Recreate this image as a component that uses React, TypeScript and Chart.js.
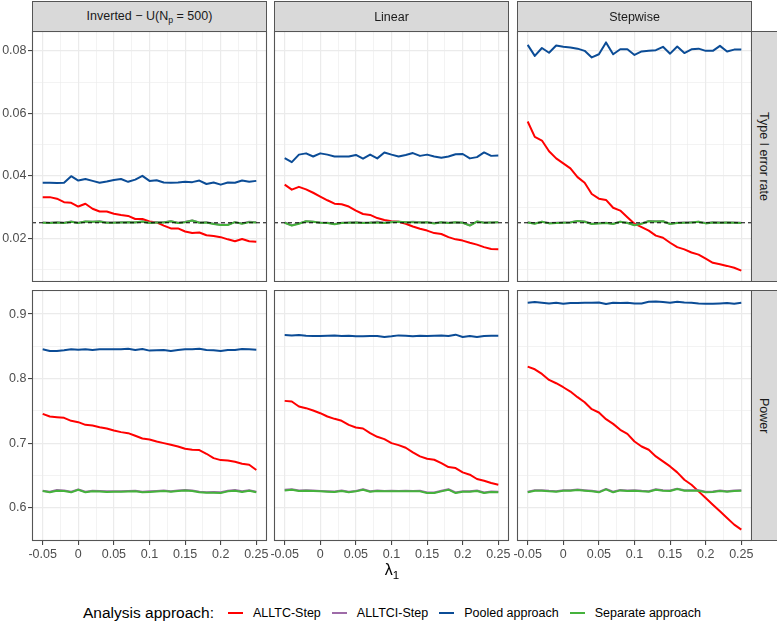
import React, { useEffect, useRef } from 'react';
import { Chart, registerables } from 'chart.js';

Chart.register(...registerables);

// ---------------- data ----------------
const X = [-0.05, -0.04, -0.03, -0.02, -0.01, 0, 0.01, 0.02, 0.03, 0.04, 0.05, 0.06, 0.07, 0.08, 0.09, 0.1,
  0.11, 0.12, 0.13, 0.14, 0.15, 0.16, 0.17, 0.18, 0.19, 0.2, 0.21, 0.22, 0.23, 0.24, 0.25];

const SERIES = ['ALLTC-Step', 'ALLTCI-Step', 'Pooled approach', 'Separate approach'];
const COLUMNS = ['Inverted − U', 'Linear', 'Stepwise'];
const ROWS = ['Type I error rate', 'Power'];
const HLINE = 0.025;

// Type I error rate
const INV_T_ALLTC = [0.0332, 0.0332, 0.0327, 0.0316, 0.0314, 0.0302, 0.0311, 0.0295, 0.0286, 0.0286, 0.0279, 0.0275, 0.0272, 0.0262, 0.0262, 0.0254, 0.0251, 0.0241, 0.0232, 0.0232, 0.0222, 0.0217, 0.0219, 0.0210, 0.0208, 0.0204, 0.0197, 0.0191, 0.0198, 0.0191, 0.0189];
const INV_T_ALLTCI = [0.0251, 0.0250, 0.0252, 0.0250, 0.0254, 0.0250, 0.0254, 0.0253, 0.0255, 0.0251, 0.0251, 0.0252, 0.0252, 0.0252, 0.0254, 0.0250, 0.0252, 0.0252, 0.0255, 0.0250, 0.0253, 0.0257, 0.0251, 0.0252, 0.0247, 0.0244, 0.0244, 0.0252, 0.0248, 0.0253, 0.0252];
const INV_T_POOLED = [0.0378, 0.0378, 0.0377, 0.0378, 0.0399, 0.0385, 0.0390, 0.0384, 0.0378, 0.0382, 0.0387, 0.0390, 0.0381, 0.0388, 0.0400, 0.0384, 0.0386, 0.0379, 0.0378, 0.0379, 0.0381, 0.0380, 0.0385, 0.0374, 0.0379, 0.0372, 0.0379, 0.0378, 0.0385, 0.0381, 0.0384];
const INV_T_SEP = [0.0250, 0.0249, 0.0251, 0.0249, 0.0253, 0.0249, 0.0254, 0.0253, 0.0254, 0.0250, 0.0250, 0.0251, 0.0252, 0.0251, 0.0254, 0.0249, 0.0251, 0.0251, 0.0255, 0.0249, 0.0252, 0.0257, 0.0250, 0.0251, 0.0246, 0.0243, 0.0243, 0.0252, 0.0247, 0.0252, 0.0251];

const LIN_T_ALLTC = [0.0372, 0.0356, 0.0365, 0.0357, 0.0346, 0.0334, 0.0322, 0.0311, 0.0309, 0.0302, 0.0289, 0.0278, 0.0275, 0.0265, 0.0259, 0.0255, 0.0253, 0.0247, 0.0238, 0.0231, 0.0225, 0.0217, 0.0214, 0.0204, 0.0197, 0.0193, 0.0186, 0.0180, 0.0172, 0.0166, 0.0165];
const LIN_T_ALLTCI = [0.0251, 0.0242, 0.0248, 0.0255, 0.0253, 0.0251, 0.0250, 0.0246, 0.0250, 0.0251, 0.0252, 0.0250, 0.0251, 0.0253, 0.0250, 0.0253, 0.0253, 0.0252, 0.0253, 0.0252, 0.0252, 0.0249, 0.0252, 0.0250, 0.0252, 0.0251, 0.0242, 0.0254, 0.0251, 0.0251, 0.0252];
const LIN_T_POOLED = [0.0457, 0.0444, 0.0468, 0.0472, 0.0462, 0.0472, 0.0468, 0.0462, 0.0462, 0.0462, 0.0467, 0.0455, 0.0468, 0.0456, 0.0475, 0.0468, 0.0462, 0.0467, 0.0473, 0.0464, 0.0468, 0.0462, 0.0458, 0.0462, 0.0469, 0.0470, 0.0456, 0.0460, 0.0475, 0.0464, 0.0465];
const LIN_T_SEP = [0.0250, 0.0241, 0.0247, 0.0255, 0.0253, 0.0250, 0.0249, 0.0245, 0.0249, 0.0250, 0.0251, 0.0249, 0.0250, 0.0251, 0.0249, 0.0252, 0.0253, 0.0252, 0.0252, 0.0251, 0.0252, 0.0248, 0.0252, 0.0249, 0.0252, 0.0250, 0.0241, 0.0254, 0.0250, 0.0251, 0.0252];

const STP_T_ALLTC = [0.0574, 0.0525, 0.0513, 0.0479, 0.0456, 0.0440, 0.0424, 0.0396, 0.0378, 0.0342, 0.0327, 0.0323, 0.0298, 0.0289, 0.0268, 0.0247, 0.0236, 0.0225, 0.0209, 0.0202, 0.0186, 0.0172, 0.0165, 0.0155, 0.0148, 0.0135, 0.0122, 0.0117, 0.0112, 0.0106, 0.0097];
const STP_T_ALLTCI = [0.0252, 0.0248, 0.0253, 0.0249, 0.0250, 0.0251, 0.0252, 0.0256, 0.0254, 0.0247, 0.0249, 0.0250, 0.0247, 0.0253, 0.0250, 0.0243, 0.0248, 0.0256, 0.0255, 0.0255, 0.0247, 0.0250, 0.0251, 0.0252, 0.0253, 0.0249, 0.0252, 0.0251, 0.0251, 0.0251, 0.0250];
const STP_T_POOLED = [0.0819, 0.0784, 0.0809, 0.0794, 0.0817, 0.0813, 0.0811, 0.0807, 0.0800, 0.0779, 0.0789, 0.0827, 0.0789, 0.0805, 0.0805, 0.0787, 0.0798, 0.0800, 0.0802, 0.0813, 0.0791, 0.0814, 0.0793, 0.0805, 0.0807, 0.0800, 0.0800, 0.0816, 0.0798, 0.0804, 0.0804];
const STP_T_SEP = [0.0251, 0.0247, 0.0253, 0.0248, 0.0249, 0.0250, 0.0251, 0.0256, 0.0253, 0.0246, 0.0248, 0.0249, 0.0246, 0.0253, 0.0249, 0.0242, 0.0247, 0.0255, 0.0254, 0.0255, 0.0246, 0.0249, 0.0250, 0.0251, 0.0253, 0.0248, 0.0251, 0.0250, 0.0251, 0.0250, 0.0249];

// Power
const INV_P_ALLTC = [0.7455, 0.7414, 0.7403, 0.7393, 0.7347, 0.7326, 0.7285, 0.7275, 0.7249, 0.7228, 0.7197, 0.7172, 0.7156, 0.7115, 0.7073, 0.7058, 0.7027, 0.7002, 0.6976, 0.6950, 0.6914, 0.6899, 0.6894, 0.6837, 0.6770, 0.6739, 0.6734, 0.6713, 0.6682, 0.6667, 0.6585];
const INV_P_ALLTCI = [0.6265, 0.6248, 0.6275, 0.6270, 0.6248, 0.6284, 0.6250, 0.6263, 0.6262, 0.6255, 0.6258, 0.6256, 0.6262, 0.6265, 0.6250, 0.6256, 0.6262, 0.6270, 0.6258, 0.6268, 0.6275, 0.6270, 0.6248, 0.6243, 0.6244, 0.6240, 0.6265, 0.6275, 0.6255, 0.6272, 0.6249];
const INV_P_POOLED = [0.8454, 0.8428, 0.8428, 0.8439, 0.8454, 0.8449, 0.8454, 0.8444, 0.8454, 0.8454, 0.8454, 0.8454, 0.8464, 0.8444, 0.8459, 0.8434, 0.8439, 0.8444, 0.8428, 0.8444, 0.8454, 0.8454, 0.8464, 0.8444, 0.8439, 0.8428, 0.8444, 0.8444, 0.8460, 0.8454, 0.8449];
const INV_P_SEP = [0.6260, 0.6240, 0.6265, 0.6262, 0.6240, 0.6280, 0.6240, 0.6255, 0.6252, 0.6245, 0.6250, 0.6250, 0.6252, 0.6255, 0.6242, 0.6246, 0.6252, 0.6260, 0.6248, 0.6260, 0.6268, 0.6262, 0.6240, 0.6235, 0.6235, 0.6230, 0.6255, 0.6265, 0.6245, 0.6265, 0.6240];

const LIN_P_ALLTC = [0.7656, 0.7646, 0.7568, 0.7543, 0.7506, 0.7465, 0.7414, 0.7378, 0.7347, 0.7285, 0.7244, 0.7228, 0.7156, 0.7100, 0.7063, 0.7002, 0.6971, 0.6930, 0.6858, 0.6796, 0.6760, 0.6744, 0.6693, 0.6631, 0.6616, 0.6549, 0.6513, 0.6446, 0.6420, 0.6384, 0.6358];
const LIN_P_ALLTCI = [0.6278, 0.6288, 0.6268, 0.6272, 0.6268, 0.6262, 0.6258, 0.6254, 0.6268, 0.6249, 0.6262, 0.6288, 0.6258, 0.6267, 0.6262, 0.6263, 0.6262, 0.6264, 0.6262, 0.6263, 0.6238, 0.6238, 0.6263, 0.6288, 0.6238, 0.6258, 0.6258, 0.6268, 0.6238, 0.6253, 0.6249];
const LIN_P_POOLED = [0.8676, 0.8670, 0.8676, 0.8665, 0.8660, 0.8660, 0.8665, 0.8670, 0.8660, 0.8665, 0.8655, 0.8655, 0.8660, 0.8660, 0.8645, 0.8655, 0.8670, 0.8665, 0.8655, 0.8665, 0.8660, 0.8665, 0.8670, 0.8660, 0.8681, 0.8645, 0.8660, 0.8645, 0.8660, 0.8665, 0.8665];
const LIN_P_SEP = [0.6270, 0.6281, 0.6260, 0.6265, 0.6260, 0.6255, 0.6250, 0.6245, 0.6260, 0.6240, 0.6255, 0.6281, 0.6250, 0.6260, 0.6255, 0.6255, 0.6255, 0.6255, 0.6255, 0.6255, 0.6229, 0.6229, 0.6255, 0.6281, 0.6229, 0.6250, 0.6250, 0.6260, 0.6229, 0.6245, 0.6240];

const STP_P_ALLTC = [0.8186, 0.8145, 0.8073, 0.7980, 0.7929, 0.7867, 0.7800, 0.7713, 0.7635, 0.7527, 0.7476, 0.7373, 0.7300, 0.7208, 0.7146, 0.7027, 0.6950, 0.6899, 0.6796, 0.6719, 0.6641, 0.6549, 0.6435, 0.6358, 0.6255, 0.6152, 0.6049, 0.5946, 0.5843, 0.5740, 0.5663];
const STP_P_ALLTCI = [0.6248, 0.6273, 0.6272, 0.6263, 0.6258, 0.6273, 0.6272, 0.6284, 0.6273, 0.6263, 0.6248, 0.6292, 0.6249, 0.6277, 0.6268, 0.6273, 0.6263, 0.6258, 0.6288, 0.6273, 0.6268, 0.6297, 0.6273, 0.6272, 0.6273, 0.6249, 0.6253, 0.6268, 0.6258, 0.6268, 0.6272];
const STP_P_POOLED = [0.9175, 0.9185, 0.9175, 0.9165, 0.9175, 0.9160, 0.9170, 0.9170, 0.9175, 0.9175, 0.9180, 0.9155, 0.9175, 0.9170, 0.9175, 0.9165, 0.9165, 0.9191, 0.9196, 0.9185, 0.9175, 0.9191, 0.9180, 0.9175, 0.9165, 0.9160, 0.9160, 0.9165, 0.9170, 0.9160, 0.9175];
const STP_P_SEP = [0.6240, 0.6265, 0.6265, 0.6255, 0.6250, 0.6265, 0.6265, 0.6276, 0.6265, 0.6255, 0.6240, 0.6286, 0.6240, 0.6270, 0.6260, 0.6265, 0.6255, 0.6250, 0.6281, 0.6265, 0.6260, 0.6291, 0.6265, 0.6265, 0.6265, 0.6240, 0.6245, 0.6260, 0.6250, 0.6260, 0.6265];

// tick values
const X_TICKS = [-0.05, -0.025, 0, 0.025, 0.05, 0.075, 0.1, 0.125, 0.15, 0.175, 0.2, 0.225, 0.25];
const X_MAJOR = [-0.05, 0, 0.05, 0.1, 0.15, 0.2, 0.25];
const X_MAJOR_LABELS = ['-0.05', '0', '0.05', '0.1', '0.15', '0.2', '0.25'];
const Y_TICKS_TOP = [0.01, 0.02, 0.03, 0.04, 0.05, 0.06, 0.07, 0.08];
const Y_MAJOR_TOP = [0.02, 0.04, 0.06, 0.08];
const Y_MAJOR_TOP_LABELS = ['0.02', '0.04', '0.06', '0.08'];
const Y_TICKS_BOTTOM = [0.55, 0.6, 0.65, 0.7, 0.75, 0.8, 0.85, 0.9];
const Y_MAJOR_BOTTOM = [0.6, 0.7, 0.8, 0.9];
const Y_MAJOR_BOTTOM_LABELS = ['0.6', '0.7', '0.8', '0.9'];

// panel lookup: [row][col] -> [ALLTC, ALLTCI, Pooled, Separate]
const PANEL_DATA = [
  [
    [INV_T_ALLTC, INV_T_ALLTCI, INV_T_POOLED, INV_T_SEP],
    [LIN_T_ALLTC, LIN_T_ALLTCI, LIN_T_POOLED, LIN_T_SEP],
    [STP_T_ALLTC, STP_T_ALLTCI, STP_T_POOLED, STP_T_SEP],
  ],
  [
    [INV_P_ALLTC, INV_P_ALLTCI, INV_P_POOLED, INV_P_SEP],
    [LIN_P_ALLTC, LIN_P_ALLTCI, LIN_P_POOLED, LIN_P_SEP],
    [STP_P_ALLTC, STP_P_ALLTCI, STP_P_POOLED, STP_P_SEP],
  ],
];

// ---------------- styles / layout ----------------
const COLORS = ['#FF0000', '#9E6BA8', '#0B4C96', '#45B23C'];
const FONT = '"Liberation Sans", Arial, Helvetica, sans-serif';
const PANEL_LEFT = [32, 274, 517];
const PANEL_TOP = [31, 290];
const PANEL_W = 235;
const PANEL_H = 251;
const AXIS_W = 32;
const AXIS_H = 26;
const EXT = 16;

const expand = (lo: number, hi: number): [number, number] => {
  const d = hi - lo;
  return [lo - d * 0.05, hi + d * 0.05];
};
const [X_MIN, X_MAX] = expand(Math.min(...X), Math.max(...X));
const ROW_RANGE = PANEL_DATA.map((row, r) => {
  const vals: number[] = [];
  row.forEach((p) => p.forEach((s) => vals.push(...s)));
  if (r === 0) vals.push(HLINE);
  return expand(Math.min(...vals), Math.max(...vals));
});

const near = (a: number, b: number) => Math.abs(a - b) < 1e-9;
const majorIndex = (list: number[], v: number) => list.findIndex((m) => near(m, v));

const framePlugin = {
  id: 'panelFrame',
  afterDraw(chart: any) {
    const { ctx, chartArea } = chart;
    ctx.save();
    ctx.strokeStyle = '#555555';
    ctx.lineWidth = 1.1;
    ctx.strokeRect(chartArea.left + 0.5, chartArea.top + 0.5, chartArea.right - chartArea.left - 1, chartArea.bottom - chartArea.top - 1);
    ctx.restore();
  },
};

function Panel({ r, c }: { r: number; c: number }) {
  const ref = useRef<HTMLCanvasElement>(null);
  const padL = c === 0 ? 0 : EXT;
  const left = c === 0 ? 0 : PANEL_LEFT[c] - EXT;
  const width = (c === 0 ? AXIS_W : EXT) + PANEL_W + EXT;
  const height = PANEL_H + (r === 1 ? AXIS_H : 0);

  useEffect(() => {
    const series = PANEL_DATA[r][c];
    const [yMin, yMax] = ROW_RANGE[r];
    const mk = (arr: number[]) => X.map((x, i) => ({ x, y: arr[i] }));
    const datasets: any[] = [];
    if (r === 0) {
      datasets.push({
        label: 'reference',
        data: [{ x: X_MIN, y: HLINE }, { x: X_MAX, y: HLINE }],
        borderColor: '#000000',
        borderWidth: 1,
        borderDash: [4, 3],
        pointRadius: 0,
      });
    }
    [3, 2, 1, 0].forEach((k) => {
      datasets.push({
        label: SERIES[k],
        data: mk(series[k]),
        borderColor: COLORS[k],
        borderWidth: 2,
        pointRadius: 0,
        tension: 0,
        borderJoinStyle: 'round',
      });
    });
    const yTicks = r === 0 ? Y_TICKS_TOP : Y_TICKS_BOTTOM;
    const yMajor = r === 0 ? Y_MAJOR_TOP : Y_MAJOR_BOTTOM;
    const yLabels = r === 0 ? Y_MAJOR_TOP_LABELS : Y_MAJOR_BOTTOM_LABELS;
    const tickFont = { family: FONT, size: 12.5 };
    const zeroPad = (s: any) => {
      s.paddingTop = 0;
      s.paddingBottom = 0;
      s.paddingLeft = 0;
      s.paddingRight = 0;
    };

    const chart = new Chart(ref.current as HTMLCanvasElement, {
      type: 'line',
      data: { datasets },
      options: {
        animation: false,
        responsive: false,
        events: [],
        layout: { padding: { left: padL, right: EXT, top: 0, bottom: 0 } },
        plugins: { legend: { display: false }, tooltip: { enabled: false } },
        scales: {
          x: {
            type: 'linear',
            min: X_MIN,
            max: X_MAX,
            afterBuildTicks: (s: any) => {
              s.ticks = X_TICKS.map((v) => ({ value: v }));
            },
            afterFit: (s: any) => {
              s.height = r === 1 ? AXIS_H : 0;
              zeroPad(s);
            },
            border: { display: false },
            grid: {
              color: '#EBEBEB',
              lineWidth: (ctx: any) => (ctx.tick && majorIndex(X_MAJOR, ctx.tick.value) >= 0 ? 1.2 : 0.6),
              drawTicks: r === 1,
              tickLength: 4,
              tickWidth: 1,
              tickColor: (ctx: any) => (ctx.tick && majorIndex(X_MAJOR, ctx.tick.value) >= 0 ? '#333333' : 'rgba(0,0,0,0)'),
            },
            ticks: {
              display: r === 1,
              autoSkip: false,
              maxRotation: 0,
              minRotation: 0,
              padding: 2,
              color: '#4D4D4D',
              font: tickFont,
              callback: (v: any) => {
                const i = majorIndex(X_MAJOR, Number(v));
                return i >= 0 ? X_MAJOR_LABELS[i] : '';
              },
            },
          },
          y: {
            type: 'linear',
            min: yMin,
            max: yMax,
            afterBuildTicks: (s: any) => {
              s.ticks = yTicks.filter((v) => v >= yMin && v <= yMax).map((v) => ({ value: v }));
            },
            afterFit: (s: any) => {
              s.width = c === 0 ? AXIS_W : 0;
              zeroPad(s);
            },
            border: { display: false },
            grid: {
              color: '#EBEBEB',
              lineWidth: (ctx: any) => (ctx.tick && majorIndex(yMajor, ctx.tick.value) >= 0 ? 1.2 : 0.6),
              drawTicks: c === 0,
              tickLength: 4,
              tickWidth: 1,
              tickColor: (ctx: any) => (ctx.tick && majorIndex(yMajor, ctx.tick.value) >= 0 ? '#333333' : 'rgba(0,0,0,0)'),
            },
            ticks: {
              display: c === 0,
              autoSkip: false,
              padding: 1.5,
              color: '#4D4D4D',
              font: tickFont,
              callback: (v: any) => {
                const i = majorIndex(yMajor, Number(v));
                return i >= 0 ? yLabels[i] : '';
              },
            },
          },
        },
      } as any,
      plugins: [framePlugin],
    });
    return () => chart.destroy();
  }, [r, c]);

  return (
    <canvas
      ref={ref}
      width={width}
      height={height}
      style={{ position: 'absolute', left, top: PANEL_TOP[r], width, height }}
    />
  );
}

const stripStyle: React.CSSProperties = {
  position: 'absolute',
  boxSizing: 'border-box',
  background: '#D9D9D9',
  border: '1px solid #555555',
  color: '#1A1A1A',
  fontFamily: FONT,
  fontSize: 12.5,
  display: 'flex',
  alignItems: 'center',
  justifyContent: 'center',
  whiteSpace: 'nowrap',
};

export default function App() {
  const cells: React.ReactNode[] = [];
  for (let r = 0; r < 2; r++) for (let c = 0; c < 3; c++) cells.push(<Panel key={`${r}-${c}`} r={r} c={c} />);

  return (
    <div style={{ position: 'absolute', left: 0, top: 0, width: 777, height: 625, background: '#FFFFFF', overflow: 'hidden' }}>
      {cells}
      {COLUMNS.map((name, c) => (
        <div key={name} style={{ ...stripStyle, left: PANEL_LEFT[c], top: 1, width: PANEL_W, height: 31 }}>
          {c === 0 ? (
            <span>
              {name}(N<sub style={{ fontSize: '0.7em', verticalAlign: '-0.3em' }}>p</sub> = 500)
            </span>
          ) : (
            <span>{name}</span>
          )}
        </div>
      ))}
      {ROWS.map((name, r) => (
        <div key={name} style={{ ...stripStyle, left: PANEL_LEFT[2] + PANEL_W - 1, top: PANEL_TOP[r], width: 30, height: PANEL_H }}>
          <span style={{ writingMode: 'vertical-rl', marginRight: 5 }}>{name}</span>
        </div>
      ))}
      <div
        style={{
          position: 'absolute',
          left: PANEL_LEFT[0],
          top: 560,
          width: PANEL_LEFT[2] + PANEL_W - PANEL_LEFT[0],
          textAlign: 'center',
          fontFamily: FONT,
          fontSize: 16,
          lineHeight: '20px',
          color: '#000000',
        }}
      >
        λ<sub style={{ fontSize: '0.72em', verticalAlign: '-0.35em' }}>1</sub>
      </div>
      <div
        style={{
          position: 'absolute',
          left: 83,
          top: 603,
          height: 20,
          display: 'flex',
          alignItems: 'center',
          fontFamily: FONT,
          color: '#000000',
          whiteSpace: 'nowrap',
        }}
      >
        <span style={{ fontSize: 15.5, marginRight: 14 }}>Analysis approach:</span>
        {SERIES.map((name, k) => (
          <span key={name} style={{ display: 'flex', alignItems: 'center', marginRight: 11 }}>
            <span style={{ display: 'inline-block', width: 15, height: 2, background: COLORS[k], marginRight: 10 }} />
            <span style={{ fontSize: 12.5 }}>{name}</span>
          </span>
        ))}
      </div>
    </div>
  );
}
